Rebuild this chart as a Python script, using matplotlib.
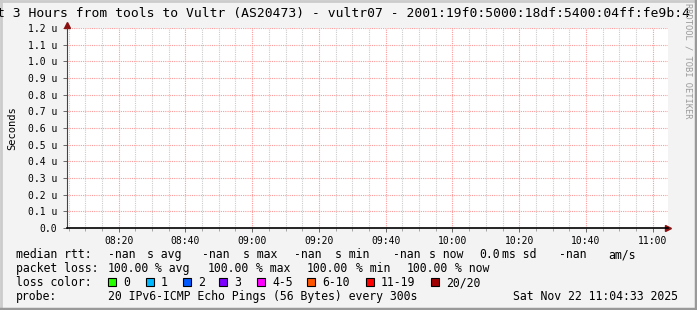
import numpy as np
import pandas as pd
import matplotlib
matplotlib.use("Agg")
import matplotlib.pyplot as plt
import matplotlib.dates as mdates
from matplotlib.ticker import FuncFormatter, MultipleLocator

# data: 3 hours of probes every 300 s, all lost -> no rtt values
times = pd.date_range("2025-11-22 08:04:33", "2025-11-22 11:04:33", freq="300s")
median_rtt = [np.nan] * len(times)

title = "t 3 Hours from tools to Vultr (AS20473) - vultr07 - 2001:19f0:5000:18df:5400:04ff:fe9b:4"
rtt_stats = ["-nan", "-nan", "-nan", "-nan"]      # avg, max, min, now
rtt_sd = "0.0 ms"
rtt_am = "-nan"
loss_stats = ["100.00", "100.00", "100.00", "100.00"]  # avg, max, min, now
loss_labels = ["0", "1", "2", "3", "4-5", "6-10", "11-19", "20/20"]
loss_colors = ["#26ff00", "#00b8ff", "#0059ff", "#7e00ff", "#ff00ff", "#ff5500", "#ff0000", "#a00000"]
probe_text = "20 IPv6-ICMP Echo Pings (56 Bytes) every 300s"
stamp = "Sat Nov 22 11:04:33 2025"

W, H = 697, 310
MONO = "DejaVu Sans Mono"

fig = plt.figure(figsize=(W / 100, H / 100), dpi=100)
fig.patch.set_facecolor("#f3f3f3")

def fx(px):
    return px / W

def fy(py):
    return 1 - py / H

# plot area 67..668 x 28..228
ax = fig.add_axes([fx(67), fy(228), fx(668) - fx(67), fy(28) - fy(228)])
ax.set_facecolor("white")
ax.plot(times, median_rtt, color="#000000", lw=1)
ax.set_xlim(times[0], times[-1])
ax.set_ylim(0, 1.2e-6)

ax.xaxis.set_major_locator(mdates.MinuteLocator(byminute=[0, 20, 40]))
ax.xaxis.set_minor_locator(mdates.MinuteLocator(byminute=range(0, 60, 5)))
ax.xaxis.set_major_formatter(mdates.DateFormatter("%H:%M"))
ax.yaxis.set_major_locator(MultipleLocator(0.1e-6))
ax.yaxis.set_major_formatter(FuncFormatter(lambda v, p: "%.1f u" % (v * 1e6) if v > 1e-9 else "0.0"))

ax.grid(which="minor", axis="x", color="#cccccc", lw=0.8, linestyle=(0, (1, 1)))
ax.grid(which="major", axis="x", color="#ff9a9a", lw=0.8, linestyle=(0, (1, 1)))
ax.grid(which="major", axis="y", color="#ff9a9a", lw=0.8, linestyle=(0, (1, 1)))
ax.set_axisbelow(True)

for s in ["top", "right"]:
    ax.spines[s].set_visible(False)
ax.spines["bottom"].set_color("black")
ax.spines["bottom"].set_linewidth(1.2)
ax.spines["left"].set_color("#444444")
ax.spines["left"].set_linewidth(0.8)

ax.tick_params(axis="both", which="major", labelsize=7, length=3, width=0.6, color="#555555", pad=3)
ax.tick_params(axis="x", which="minor", length=2, width=0.5, color="#888888")
ax.tick_params(axis="y", which="major", pad=4)
for lab in ax.get_xticklabels() + ax.get_yticklabels():
    lab.set_fontfamily(MONO)

# arrows at the end of the axes
ax.plot([1.0], [0], marker=">", color="#8b1010", ms=5, clip_on=False, transform=ax.transAxes)
ax.plot([0], [1.015], marker="^", color="#8b1010", ms=5, clip_on=False, transform=ax.transAxes)

ax.set_ylabel("Seconds", fontsize=7.5, family=MONO, labelpad=8)

# title (clipped at both figure edges as in the original)
fig.text(fx(-3), fy(13), title, family=MONO, fontsize=9.4, va="center", ha="left")

# watermark
fig.text(fx(688), fy(3), "RRDTOOL / TOBI OETIKER", rotation=270, fontsize=6.3,
         color="#9a9a9a", family=MONO, va="top", ha="center")

# legend, rows placed on a common baseline
fs = 8.3
def put(px, py, s):
    fig.text(fx(px), fy(py + 4), s, family=MONO, fontsize=fs, va="baseline", ha="left")

y1, y2, y3, y4 = 254, 268, 282, 296
put(16, y1, "median rtt:")
for x, s in zip([108, 202, 294, 393], rtt_stats):
    put(x, y1, s)
for x, s in zip([147, 243, 335, 429], ["s avg", "s max", "s min", "s now"]):
    put(x, y1, s)
put(479, y1, rtt_sd.split()[0])
put(502, y1, "ms sd")
put(559, y1, rtt_am)
put(608, y1, "am/s")

put(16, y2, "packet loss:")
for x, s in zip([108, 208, 307, 407], loss_stats):
    put(x, y2, s)
for x, s in zip([155, 256, 356, 455], ["% avg", "% max", "% min", "% now"]):
    put(x, y2, s)

put(16, y3, "loss color:")
box_x = [108, 146, 183, 219, 257, 307, 366, 431]
for bx, lab, c in zip(box_x, loss_labels, loss_colors):
    fig.patches.append(plt.Rectangle((fx(bx), fy(y3 + 4)), fx(8), 8 / H, transform=fig.transFigure,
                                     facecolor=c, edgecolor="black", lw=0.8))
    put(bx + 15, y3, lab)

put(16, y4, "probe:")
put(108, y4, probe_text)
put(513, y4, stamp)

# 3d border
fig.add_artist(plt.Line2D([0, 1], [1 - 1 / H, 1 - 1 / H], color="#cbcbcb", lw=2, transform=fig.transFigure))
fig.add_artist(plt.Line2D([1 / W, 1 / W], [0, 1], color="#cbcbcb", lw=2, transform=fig.transFigure))
fig.add_artist(plt.Line2D([0, 1], [1.5 / H, 1.5 / H], color="#999999", lw=2.5, transform=fig.transFigure))
fig.add_artist(plt.Line2D([1 - 1.5 / W, 1 - 1.5 / W], [0, 1], color="#999999", lw=2.5, transform=fig.transFigure))

fig.savefig("out.png", dpi=100, facecolor=fig.get_facecolor())
